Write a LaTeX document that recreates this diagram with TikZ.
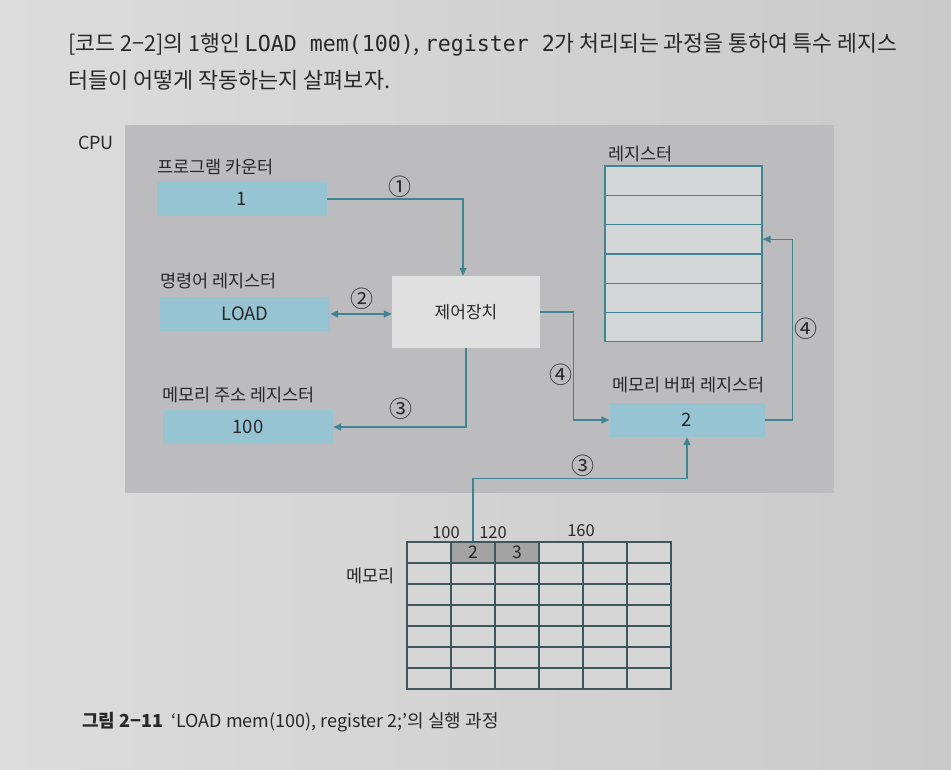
\documentclass[tikz,border=0pt]{standalone}
\usepackage{fontspec}
\setmainfont{Noto Sans CJK KR}
\newfontfamily\monof{DejaVu Sans Mono}
\usetikzlibrary{arrows.meta}
\definecolor{pageL}{RGB}{220,220,220}
\definecolor{pageR}{RGB}{202,202,202}
\definecolor{cpugray}{RGB}{188,188,190}
\definecolor{regblue}{RGB}{150,196,211}
\definecolor{cubox}{RGB}{224,224,224}
\definecolor{cellfill}{RGB}{212,215,216}
\definecolor{teal}{RGB}{62,132,146}
\definecolor{gridline}{RGB}{60,88,92}
\definecolor{memfill}{RGB}{214,214,214}
\definecolor{memdark}{RGB}{163,163,163}
\definecolor{txt}{RGB}{40,40,40}
\tikzset{
  bluebox/.style={fill=regblue, inner sep=0pt, minimum width=170pt, minimum height=34pt, text=txt, font=\fontsize{18.5}{20}\selectfont},
  lbl/.style={anchor=west, inner sep=0pt, text=txt, font=\fontsize{17.5}{20}\selectfont},
  num/.style={inner sep=0pt, text=txt, font=\fontsize{19}{21}\selectfont},
  stepno/.style={inner sep=0pt, text=txt, font=\fontsize{23}{25}\selectfont},
  regcell/.style={draw=teal, fill=cellfill, line width=1.2pt, inner sep=0pt, minimum width=157pt, minimum height=29.3pt},
  memcell/.style={draw=gridline, fill=memfill, line width=1.1pt, inner sep=0pt, minimum width=44pt, minimum height=21pt, text=txt, font=\fontsize{17.5}{19}\selectfont},
  conn/.style={draw=teal, line width=1.4pt},
  tip/.style={-{Triangle[length=8pt,width=7pt]}},
  dtip/.style={{Triangle[length=8pt,width=7pt]}-{Triangle[length=8pt,width=7pt]}}
}
\begin{document}
\begin{tikzpicture}[x=1pt,y=-1pt]
\useasboundingbox (0,0) rectangle (951,769);
\shade[left color=pageL, right color=pageR] (0,0) rectangle (951,769);

% body text
\node[anchor=west, inner sep=0pt, text=txt] (t1) at (68,45)
  {\resizebox{829pt}{\height}{\fontsize{22}{24}\selectfont [코드 2−2]의 1행인 {\monof LOAD mem(100)}, {\monof register 2}가 처리되는 과정을 통하여 특수 레지스}};
\node[anchor=west, inner sep=0pt, text=txt] (t2) at (68,80)
  {\resizebox{322pt}{\height}{\fontsize{22}{24}\selectfont 터들이 어떻게 작동하는지 살펴보자.}};

% CPU
\node[fill=cpugray, anchor=north west, inner sep=0pt, minimum width=709pt, minimum height=368pt] (cpu) at (125,125) {};
\node[num, font=\fontsize{18}{20}\selectfont] (cpulbl) at (96,143) {CPU};

% registers on the left
\node[lbl] (pclbl) at (157,167) {프로그램 카운터};
\node[bluebox] (pc) at (242,199) {1};
\node[lbl] (irlbl) at (160,281) {명령어 레지스터};
\node[bluebox] (ir) at (245,314) {LOAD};
\node[lbl] (marlbl) at (162,395) {메모리 주소 레지스터};
\node[bluebox] (mar) at (248,427) {100};

% control unit
\node[fill=cubox, inner sep=0pt, minimum width=148pt, minimum height=72pt, text=txt, font=\fontsize{17}{19}\selectfont] (cu) at (466,312) {제어장치};

% register file
\node[lbl] (reglbl) at (608,154) {레지스터};
\foreach \i in {1,...,6}{
  \node[regcell] (reg\i) at (683.5,{166+29.3*(\i-0.5)}) {};
}

% memory buffer register
\node[lbl] (mbrlbl) at (612,385) {메모리 버퍼 레지스터};
\node[bluebox, minimum width=155pt] (mbr) at (687,420) {2};

% memory
\node[lbl] (memlbl) at (346,576) {메모리};
\foreach \r in {1,...,7}{
  \foreach \c in {1,...,6}{
    \node[memcell] (m-\r-\c) at ({407+44*(\c-0.5)},{542+21*(\r-0.5)}) {};
  }
}
\node[memcell, fill=memdark] (m-1-2) at ({407+44*1.5},{542+21*0.5}) {2};
\node[memcell, fill=memdark] (m-1-3) at ({407+44*2.5},{542+21*0.5}) {3};
\node[num, font=\fontsize{16.5}{19}\selectfont] (a100) at (446,533) {100};
\node[num, font=\fontsize{16.5}{19}\selectfont] (a120) at (493,533) {120};
\node[num, font=\fontsize{16.5}{19}\selectfont] (a160) at (581,531) {160};

% connectors
\draw[conn, tip] (pc.east) -| ([xshift=-3pt]cu.north);
\draw[conn, dtip] (ir.east) -- (ir.east -| cu.west);
\draw[conn, tip] (cu.south) |- (mar.east);
\draw[conn, tip] (cu.east) -- ++(33,0) |- (mbr.west);
\draw[conn, tip] (mbr.east) -- ++(28,0) |- (reg3.east);
\draw[conn, tip] (m-1-2.north) -- ++(0,-63) -| (mbr.south);

% step labels
\node[stepno] (s1) at (400,187) {①};
\node[stepno] (s2) at (362,299) {②};
\node[stepno] (s3a) at (401,409) {③};
\node[stepno] (s4a) at (561,375) {④};
\node[stepno] (s4b) at (806,329) {④};
\node[stepno] (s3b) at (583,466) {③};

% caption
\node[anchor=west, inner sep=0pt, text=txt, font=\fontsize{18}{20}\selectfont] (cap) at (82,722)
  {\textbf{그림 2−11}\hspace{8pt}‘LOAD mem(100), register 2;’의 실행 과정};
\end{tikzpicture}
\end{document}
